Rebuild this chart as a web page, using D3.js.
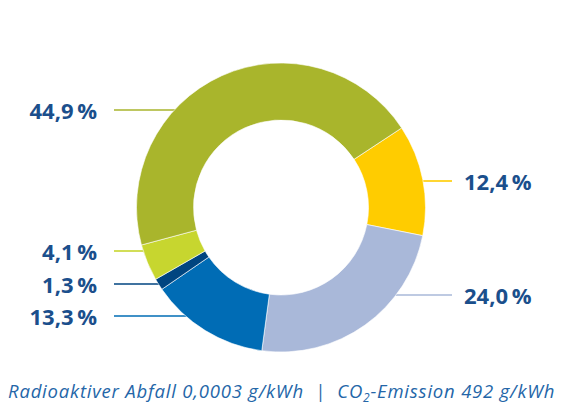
<!DOCTYPE html>
<html lang="de">
<head>
<meta charset="UTF-8" />
<title>Strommix</title>
<script src="https://d3js.org/d3.v7.min.js"></script>
<style>
  body { margin: 0; background: #fff; }
  svg text { font-family: "Open Sans", "Noto Sans", sans-serif; }
</style>
</head>
<body>
<svg id="chart"></svg>
<script>
// slices in clockwise order, starting from the olive/yellow border
const values = [12.4, 24.0, 13.3, 1.3, 4.1, 44.9];
const labels = ["12,4\u2009%", "24,0\u2009%", "13,3\u2009%", "1,3\u2009%", "4,1\u2009%", "44,9\u2009%"];
const colors = ["#ffcc00", "#a9b8d9", "#006cb5", "#004580", "#c7d62f", "#a9b52c"];
// label rows: side and vertical position of the leader line
const labelSide = ["right", "right", "left", "left", "left", "left"];
const labelY = [181, 295, 316, 284, 251, 110];
const footer = ["Radioaktiver Abfall 0,0003 g/kWh  |  CO", "2", "-Emission 492 g/kWh"];

const width = 566, height = 408;
const cx = 281, cy = 207.5;
const outerR = 144.5, innerR = 87.5;
const startAngle = 56.6 * Math.PI / 180;

const svg = d3.select("#chart").attr("width", width).attr("height", height);

const pie = d3.pie().sort(null).value(d => d)
  .startAngle(startAngle).endAngle(startAngle + 2 * Math.PI);
const arc = d3.arc().innerRadius(innerR).outerRadius(outerR);
const arcs = pie(values);

// leader lines, drawn up to the outer edge of the ring
const lines = svg.append("g");
arcs.forEach((a, i) => {
  const y = labelY[i];
  const dy = y - cy;
  const edge = Math.sqrt(outerR * outerR - dy * dy);
  const right = labelSide[i] === "right";
  lines.append("line")
    .attr("x1", right ? 452 : 114)
    .attr("x2", right ? cx + edge - 2 : cx - edge + 2)
    .attr("y1", y).attr("y2", y)
    .attr("stroke", colors[i])
    .attr("stroke-width", 1.6);
  svg.append("text")
    .attr("x", right ? 464 : 97)
    .attr("y", y + 9)
    .attr("text-anchor", right ? "start" : "end")
    .attr("font-size", 22)
    .attr("font-weight", 700)
    .attr("fill", "#1b4f8c")
    .text(labels[i]);
});

svg.append("g")
  .attr("transform", `translate(${cx},${cy})`)
  .selectAll("path")
  .data(arcs)
  .join("path")
  .attr("d", arc)
  .attr("fill", (d, i) => colors[i])
  .attr("stroke", "#fff")
  .attr("stroke-width", 0.6);

const ft = svg.append("text")
  .attr("x", 8)
  .attr("y", 398)
  .attr("font-size", 18.5)
  .attr("letter-spacing", 0.8)
  .attr("font-style", "italic")
  .attr("fill", "#2466a8")
  .attr("xml:space", "preserve");
ft.append("tspan").text(footer[0]);
ft.append("tspan").attr("font-size", 12).attr("dy", 4).text(footer[1]);
ft.append("tspan").attr("dy", -4).text(footer[2]);
</script>
</body>
</html>
